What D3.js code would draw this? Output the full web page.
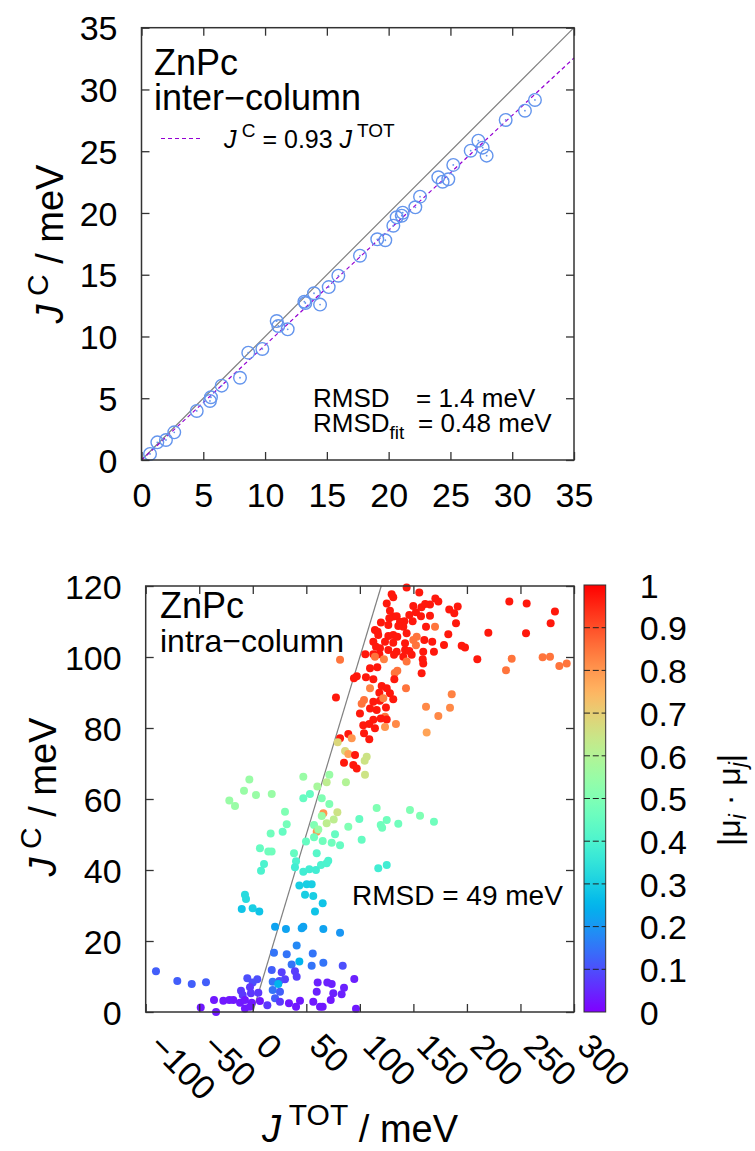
<html>
<head>
<meta charset="utf-8">
<script src='https://d3js.org/d3.v7.min.js'></script>
<style>
body {margin:0; background:#fff;}
text {font-family: "Liberation Sans", Arial, sans-serif; fill:#000;}
.tick line {stroke:#333; stroke-width:1.3;}
</style>
</head>
<body>
<svg width=755 height=1151></svg>
<script>
// top panel: inter-column
var topJtot = [0.69,1.28,1.98,2.65,4.47,5.54,5.62,6.49,7.97,8.64,9.78,10.94,11.07,11.83,13.18,13.26,13.96,14.45,15.15,15.93,
  17.68,19.08,19.73,20.38,20.65,21.06,21.14,22.16,22.54,24.02,24.37,24.83,25.23,26.64,27.26,27.61,27.93,29.47,31.03,31.84];
var topJc = [0.49,1.43,1.62,2.24,3.97,4.78,5.08,6.02,6.66,8.69,8.99,11.25,10.85,10.58,12.82,12.71,13.5,12.58,14.0,14.92,
  16.54,17.87,17.79,18.97,19.65,19.78,20.02,20.46,21.32,22.89,22.53,22.73,23.89,25.04,25.85,25.29,24.64,27.53,28.28,29.15];
var topTicks = [0,5,10,15,20,25,30,35];
var fitSlope = 0.93;

// bottom panel: intra-column
var botJtot = [143.7,155.5,129.7,131.2,170.5,239.6,255.8,125.1,165.5,149.9,
  157.5,161,183.5,191.4,173.3,128.1,152.4,188.2,282.2,131.2,
  127.5,134.4,146.2,157.1,165.5,141.5,137.5,149.3,119.7,126.6,
  140.6,161.8,189.8,278.2,135.9,170.2,114.1,116.6,131.2,143.7,
  153.1,220,255.2,117.2,126.6,135,160.2,182.6,112.6,123.5,
  131.2,142.2,149.9,152.4,167.6,178.6,195.1,198.2,115.1,118.8,
  126.6,134.4,142.2,146.2,148.4,159.2,169.2,105.1,112.6,118.2,
  114.1,122.5,131.9,140.6,81.5,143.7,158.7,159.2,209.7,241.8,
  270.7,277.6,286.3,293.2,236.5,109.5,116.3,135,132.6,157.7,
  97.1,94.5,105.7,112.6,132.2,109.5,120.4,125.1,143.1,118.2,
  128.1,185.8,77.7,103.9,112.6,118.8,121.9,131.2,101.7,109.5,
  115.7,124.4,161.8,184.2,100.1,173.3,123.5,125.1,119.5,112.6,
  103.2,108.8,114.1,123.5,133.7,162.4,89.2,103.9,108.8,81.5,
  92.4,79.3,86.2,89.2,95.5,106.4,104.5,85.2,93.9,97.1,
  104.8,87.0,69,71.5,60.3,47.2,53.4,47.2,64.4,-3.2,
  -8.2,3.0,17.7,-21.9,-16.6,71.5,79,65.9,64.4,30.1,
  31.7,57.2,69.0,75.6,59.7,61.2,89.2,99.5,115.7,125.1,
  119.5,120.8,135.9,146.8,156.2,169.2,101.7,81.5,73.7,76.8,
  65.3,57.2,49.7,16.7,27.9,6.7,14.5,17.6,38.5,59.7,
  70.5,63.7,69,40.4,39.4,47.2,52.8,59,10.5,7.7,
  117.2,125.1,43.5,50.4,55.0,48.8,56.5,65.3,58.1,-7.3,
  -6.3,-10.3,-0.1,6.1,20.8,31,45.7,47.2,65.9,81.5,
  41,19.8,31.7,56,43.5,36.3,55,65.9,84,-90.4,
  -70.5,-57,-43.7,-5.1,4.2,-0.1,17.7,27.0,30.1,24.8,
  18.6,23.8,39.4,41,60.6,69.6,73.7,85.2,94.8,-11,
  -2.6,-9.4,-1.7,5.2,18.6,25.4,20.8,59.7,75.2,83,
  -36.2,-27.5,-21.9,-18.2,-11.9,-7.3,-1,6.7,13.6,25.4,
  33.8,44.1,56.5,65.3,72.8,-48.6,-34.3,-7.3,-2.6,40.4,
  62.8,96.4];
var botJc = [119.6,118.2,117.7,116.8,116.5,115.6,115.1,115.1,114.8,114.4,
  114.0,114.9,113.4,114.2,115.6,113.0,112.6,112.3,112.8,111.4,
  110.9,111.5,111.8,111.5,111.6,110.1,109.9,110.1,109.7,109.0,
  108.5,108.5,109.5,109.5,108.7,108.5,107.6,107.1,106.2,106.7,
  105.7,106.8,106.7,106.2,105.9,105.7,104.8,106.4,104.3,104.3,
  104.0,103.9,104.8,103.3,104.3,103.4,103.2,102.7,102.9,102.5,
  102.0,101.5,102.0,101.7,100.6,101.5,101.5,100.8,100.8,100.8,
  100.1,99.4,100.6,100.1,99.2,98.7,99.4,98.2,99.4,99.5,
  99.9,100.1,97.5,98.2,96.3,96.8,97.1,96.1,95.5,95.4,
  94.6,94.0,94.3,93.7,93.7,91.2,91.8,91.2,91.2,89.9,
  89.8,89.5,88.6,87.9,87.4,87.7,88.4,88.1,86.8,85.5,
  85.1,85.8,86.0,85.7,84.1,83.4,83.2,82.4,82.7,82.3,
  80.8,81.1,79.9,80.3,81.1,78.7,78.3,78.5,76.8,77.1,
  77.1,76.0,73.5,72.7,72.4,71.9,70.8,70.2,69.6,68.6,
  66.8,64.7,64.7,66.8,63.5,66.3,61.4,60.2,60.2,65.5,
  62.3,61.1,61.4,59.6,58.0,58.6,56.3,56.0,55.2,56.4,
  52.9,52.7,53.2,54.2,50.8,51.4,52.2,54.4,57.5,54.1,
  52.7,51.9,53.0,56.9,55.3,53.6,48.5,47.0,47.7,50.1,
  48.2,49.2,48.0,50.3,50.8,46.1,45.2,45.2,44.7,44.7,
  42.6,41.4,41.9,42.5,40.8,39.5,40.2,40.0,41.7,39.8,
  40.5,41.4,35.6,36.0,36.0,33.0,32.7,30.6,28.3,33.0,
  31.8,29.0,29.2,28.3,24.0,23.4,23.6,24.0,23.4,22.3,
  18.7,16.7,16.3,16.5,14.2,13.4,13.0,13.9,13.0,11.5,
  8.7,7.9,8.4,9.5,9.2,8.3,11.8,11.2,9.2,8.7,
  8.5,7.9,11.5,9.9,8.3,8.3,7.9,6.8,9.3,6.0,
  7.0,4.8,5.3,5.4,6.2,5.7,3.9,5.7,5.3,5.0,
  3.4,3.2,3.4,3.4,2.6,3.4,2.6,3.1,1.9,2.9,
  2.5,3.2,2.9,1.5,3.4,1.3,0,1.0,1.5,1.5,
  1.5,0.9];
var botMu = [.97,.97,.97,.97,.97,.97,.97,.97,.97,.97,
  .97,.97,.97,.97,.97,.97,.97,.97,.97,.97,
  .97,.97,.97,.97,.97,.97,.97,.97,.97,.97,
  .97,.97,.97,.97,.97,.85,.97,.97,.97,.97,
  .85,.97,.97,.97,.97,.97,.97,.97,.97,.97,
  .97,.97,.85,.85,.97,.97,.97,.97,.97,.97,
  .97,.97,.97,.97,.97,.97,.97,.97,.97,.97,
  .85,.83,.97,.97,.85,.85,.97,.97,.97,.85,
  .85,.85,.85,.85,.85,.97,.97,.85,.85,.97,
  .97,.97,.97,.97,.97,.83,.97,.97,.85,.97,
  .97,.83,.97,.85,.97,.97,.83,.97,.85,.97,
  .97,.97,.82,.82,.97,.82,.85,.97,.97,.97,
  .97,.97,.97,.8,.82,.78,.97,.97,.97,.97,
  .8,.68,.68,.78,.97,.65,.65,.97,.97,.97,
  .65,.6,.62,.55,.58,.55,.45,.45,.5,.55,
  .55,.55,.55,.55,.55,.5,.65,.8,.55,.5,
  .48,.5,.62,.62,.8,.55,.5,.45,.5,.47,
  .47,.47,.47,.5,.5,.47,.45,.45,.47,.45,
  .47,.47,.45,.47,.45,.45,.47,.47,.45,.42,
  .4,.4,.4,.4,.38,.38,.38,.38,.4,.4,
  .38,.38,.3,.3,.3,.3,.3,.28,.28,.33,
  .33,.28,.3,.28,.22,.22,.22,.22,.22,.2,
  .18,.15,.15,.15,.25,.15,.15,.15,.1,.12,
  .12,.12,.12,.1,.1,.1,.12,.08,.08,.1,
  .15,.25,.08,.08,.04,.04,.04,.04,.04,.07,
  .07,.07,.07,.07,.15,.12,.12,.04,.04,.04,
  .03,.03,.03,.03,.03,.03,.03,.03,.07,.07,
  .03,.03,.03,.03,.03,.03,.03,.03,.03,.03,
  .03,.03];
var botXTicks = [-100,-50,0,50,100,150,200,250,300];
var botYTicks = [0,20,40,60,80,100,120];
var cbTicks = [0,0.1,0.2,0.3,0.4,0.5,0.6,0.7,0.8,0.9,1];

var svg = d3.select("svg");
svg.append("rect").attr("width",755).attr("height",1151).attr("fill","#fff");

// gnuplot rgbformulae 33,13,10
function rainbow(t) {
  var r = Math.min(1, Math.abs(2*t - 0.5)), g = Math.max(0, Math.sin(Math.PI*t)), b = Math.max(0, Math.cos(Math.PI*t/2));
  return d3.rgb(r*255, g*255, b*255).toString();
}
var color = d3.scaleSequential(rainbow).domain([0,1]);

var tickFont = 34;

function styleAxis(g, size) {
  g.attr("font-size", size).attr("font-family", null);
  g.select(".domain").remove();
}

function frame(x, y, xt, yt, rotX) {
  var x0 = x.range()[0], x1 = x.range()[1], y0 = y.range()[0], y1 = y.range()[1];
  var bx = svg.append("g").attr("transform","translate(0,"+y0+")")
    .call(d3.axisBottom(x).tickValues(xt).tickSize(-8).tickFormat(d3.format("d")));
  styleAxis(bx, tickFont);
  if (rotX) {
    bx.selectAll("text").attr("text-anchor","start").attr("x",1).attr("y",36).attr("dy",0)
      .attr("transform","rotate(45,1,36)");
  } else {
    bx.selectAll("text").attr("y",47).attr("dy",0);
  }
  var tx = svg.append("g").attr("transform","translate(0,"+y1+")")
    .call(d3.axisTop(x).tickValues(xt).tickSize(-8).tickFormat(""));
  styleAxis(tx, tickFont);
  var ly = svg.append("g").attr("transform","translate("+x0+",0)")
    .call(d3.axisLeft(y).tickValues(yt).tickSize(-8).tickPadding(24).tickFormat(d3.format("d")));
  styleAxis(ly, tickFont);
  ly.selectAll("text").attr("dy","0.36em");
  var ry = svg.append("g").attr("transform","translate("+x1+",0)")
    .call(d3.axisRight(y).tickValues(yt).tickSize(-8).tickFormat(""));
  styleAxis(ry, tickFont);
  svg.append("rect").attr("x",x0).attr("y",y1).attr("width",x1-x0).attr("height",y0-y1)
    .attr("fill","none").attr("stroke","#333").attr("stroke-width",1.5);
}

// ---------- top panel ----------
var xT = d3.scaleLinear().domain([0,35]).range([141.5,574]);
var yT = d3.scaleLinear().domain([0,35]).range([460,27.7]);

svg.append("line").attr("x1",xT(0)).attr("y1",yT(0)).attr("x2",xT(35)).attr("y2",yT(35))
  .attr("stroke","#808080").attr("stroke-width",1.2);
svg.append("line").attr("x1",xT(0)).attr("y1",yT(0)).attr("x2",xT(35)).attr("y2",yT(35*fitSlope))
  .attr("stroke","#9400d3").attr("stroke-width",1.2).attr("stroke-dasharray","4,3");

var pts = svg.append("g").selectAll("g").data(topJtot).enter().append("g")
  .attr("transform", function(d,i){ return "translate("+xT(d)+","+yT(topJc[i])+")"; });
pts.append("circle").attr("r",6.3).attr("fill","none").attr("stroke","#6495ed").attr("stroke-width",1.4);
pts.append("circle").attr("r",0.9).attr("fill","#6495ed");

frame(xT, yT, topTicks, topTicks, false);

svg.append("text").attr("x",154).attr("y",75).attr("font-size",36).text("ZnPc");
svg.append("text").attr("x",154).attr("y",110).attr("font-size",36).text("inter\u2212column");
svg.append("line").attr("x1",161).attr("x2",202).attr("y1",138.5).attr("y2",138.5)
  .attr("stroke","#9400d3").attr("stroke-width",1.2).attr("stroke-dasharray","4,3");
var lg = svg.append("text").attr("x",224).attr("y",148).attr("font-size",25);
lg.append("tspan").attr("font-style","italic").text("J");
lg.append("tspan").attr("font-size",19).attr("dy",-11).text(" C");
lg.append("tspan").attr("dy",11).text(" = 0.93 ");
lg.append("tspan").attr("font-style","italic").text("J");
lg.append("tspan").attr("font-size",19).attr("dy",-11).text(" TOT");

svg.append("text").attr("x",313).attr("y",407).attr("font-size",26).text("RMSD");
svg.append("text").attr("x",416).attr("y",407).attr("font-size",26).text("= 1.4 meV");
var r2 = svg.append("text").attr("x",313).attr("y",432).attr("font-size",26);
r2.append("tspan").text("RMSD");
r2.append("tspan").attr("font-size",19).attr("dy",7).text("fit");
svg.append("text").attr("x",418).attr("y",432).attr("font-size",26).text("= 0.48 meV");

var yl1 = svg.append("text").attr("transform","translate(63,244) rotate(-90)").attr("text-anchor","middle").attr("font-size",38);
yl1.append("tspan").attr("font-style","italic").text("J");
yl1.append("tspan").attr("font-size",30).attr("dy",-15).text(" C");
yl1.append("tspan").attr("dy",15).text(" / meV");

// ---------- bottom panel ----------
var xB = d3.scaleLinear().domain([-100,300]).range([145.7,574]);
var yB = d3.scaleLinear().domain([0,120]).range([1012,586]);

svg.append("line").attr("x1",xB(0)).attr("y1",yB(0)).attr("x2",xB(120)).attr("y2",yB(120))
  .attr("stroke","#808080").attr("stroke-width",1.2);

svg.append("g").selectAll("circle").data(botJtot).enter().append("circle")
  .attr("cx", function(d){ return xB(d); })
  .attr("cy", function(d,i){ return yB(botJc[i]); })
  .attr("r", 4)
  .attr("fill", function(d,i){ return color(botMu[i]); });

frame(xB, yB, botXTicks, botYTicks, true);

svg.append("text").attr("x",160).attr("y",618).attr("font-size",36).text("ZnPc");
svg.append("text").attr("x",160).attr("y",652).attr("font-size",32).text("intra\u2212column");
svg.append("text").attr("x",352).attr("y",905).attr("font-size",28).text("RMSD = 49 meV");

var yl2 = svg.append("text").attr("transform","translate(56,797) rotate(-90)").attr("text-anchor","middle").attr("font-size",38);
yl2.append("tspan").attr("font-style","italic").text("J");
yl2.append("tspan").attr("font-size",30).attr("dy",-15).text(" C");
yl2.append("tspan").attr("dy",15).text(" / meV");

var xl = svg.append("text").attr("x",262).attr("y",1142).attr("font-size",38);
xl.append("tspan").attr("font-style","italic").text("J");
xl.append("tspan").attr("font-size",30).attr("dy",-17).text(" TOT");
xl.append("tspan").attr("dy",17).text(" / meV");

// ---------- colour box ----------
var cbX = 584, cbW = 21.7;
var yC = d3.scaleLinear().domain([0,1]).range([1012,585]);
var grad = svg.append("defs").append("linearGradient").attr("id","cb")
  .attr("x1",0).attr("y1",1).attr("x2",0).attr("y2",0);
grad.selectAll("stop").data(d3.range(0,1.0001,0.02)).enter().append("stop")
  .attr("offset", function(d){ return d; })
  .attr("stop-color", function(d){ return color(d); });
svg.append("rect").attr("x",cbX).attr("y",yC(1)).attr("width",cbW).attr("height",yC(0)-yC(1))
  .attr("fill","url(#cb)").attr("stroke","#333").attr("stroke-width",1);
svg.append("g").selectAll("line").data(cbTicks.slice(1,-1)).enter().append("line")
  .attr("x1",cbX).attr("x2",cbX+cbW)
  .attr("y1", function(d){ return yC(d); }).attr("y2", function(d){ return yC(d); })
  .attr("stroke","#222").attr("stroke-width",1).attr("stroke-dasharray","6,2.8");
var cb = svg.append("g").attr("transform","translate("+(cbX+cbW)+",0)")
  .call(d3.axisRight(yC).tickValues(cbTicks).tickSize(0).tickPadding(34).tickFormat(d3.format("~g")));
styleAxis(cb, tickFont);
cb.selectAll("text").attr("dy","0.36em");

var cl = svg.append("text").attr("transform","translate(740,800) rotate(-90)").attr("text-anchor","middle").attr("font-size",32);
cl.append("tspan").text("|\u03bc");
cl.append("tspan").attr("font-size",23).attr("font-style","italic").attr("dy",6).text("i");
cl.append("tspan").attr("dy",-6).text(" \u00b7 \u03bc");
cl.append("tspan").attr("font-size",23).attr("font-style","italic").attr("dy",6).text("j");
cl.append("tspan").attr("dy",-6).text("|");
</script>
</body>
</html>
